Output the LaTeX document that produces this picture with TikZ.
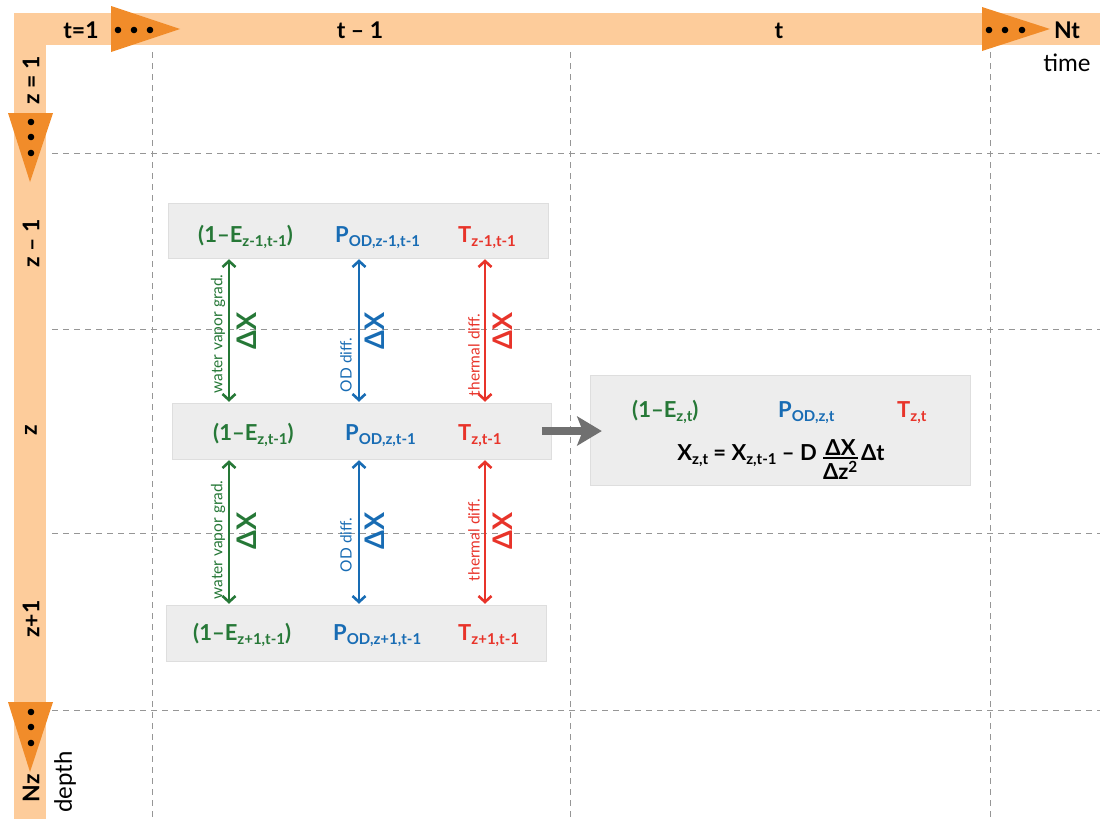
\documentclass[tikz,border=0pt]{standalone}
\usepackage{amsmath}
\usepackage{fontspec}
\setmainfont{Lato}
\usetikzlibrary{arrows.meta}

\definecolor{barlight}{RGB}{253,204,155}
\definecolor{bardark}{RGB}{241,140,42}
\definecolor{vapgreen}{RGB}{38,120,55}
\definecolor{odblue}{RGB}{24,108,180}
\definecolor{thermred}{RGB}{232,52,42}
\definecolor{boxgray}{RGB}{237,237,237}
\definecolor{boxedge}{RGB}{222,222,222}
\definecolor{gridgray}{RGB}{150,150,150}
\definecolor{pushgray}{RGB}{112,112,112}

% subscript as set in the figure
\newcommand{\sbs}[1]{\raisebox{-4pt}{\fontsize{15}{15}\selectfont #1}}
\newcommand{\stackfrac}[2]{\raisebox{-3.5pt}{$\genfrac{}{}{1.8pt}{}{\hbox{#1}}{\hbox{#2}}$}}

\begin{document}
\begin{tikzpicture}[x=1pt, y=-1pt,
    >={Straight Barb[length=6pt,width=13pt]},
    grid/.style={gridgray, dash pattern=on 6pt off 5pt, line width=0.9pt},
    barlabel/.style={font=\fontsize{23}{23}\selectfont\bfseries, inner sep=0pt},
    axisname/.style={font=\fontsize{24}{24}\selectfont, inner sep=0pt},
    cell/.style={fill=boxgray, draw=boxedge, line width=0.5pt, inner sep=0pt},
    qty/.style={font=\fontsize{22}{22}\selectfont\bfseries, inner sep=0pt, anchor=base west},
    flux/.style={<->, line width=2.6pt, shorten <=1pt, shorten >=1pt},
    fluxnote/.style={rotate=90, font=\fontsize{15.5}{15.5}\selectfont, inner sep=0pt},
    delta/.style={rotate=90, font=\fontsize{27}{27}\selectfont\bfseries, inner sep=0pt}]
    \useasboundingbox (0,0) rectangle (1100,819);

    % dashed grid
    \foreach \gx in {152,570,990}
        \draw[grid] (\gx,52) -- (\gx,819);
    \foreach \gy in {153,329,533,710}
        \draw[grid] (52,\gy) -- (1100,\gy);

    % time and depth bars
    \fill[barlight] (14,13) rectangle (1100,45);
    \fill[barlight] (14,13) rectangle (46,819);
    \fill[bardark] (111,6) -- (111,52) -- (180,29) -- cycle;
    \fill[bardark] (982,7) -- (982,51) -- (1050,29) -- cycle;
    \fill[bardark] (8,113) -- (53,113) -- (30,182) -- cycle;
    \fill[bardark] (8,702) -- (53,702) -- (30,772) -- cycle;
    \foreach \dx in {118,134,150,989,1005,1022}
        \fill (\dx,30) circle (3.3);
    \foreach \dy in {122,137,153,712,727,743}
        \fill (31,\dy) circle (3.3);

    \node[barlabel, anchor=base] at (81,38)   (tfirst) {t=1};
    \node[barlabel, anchor=base] at (360,38)  (tprev)  {t -- 1};
    \node[barlabel, anchor=base] at (779,38)  (tnow)   {t};
    \node[barlabel, anchor=base] at (1067,38) (tlast)  {Nt};
    \node[axisname, anchor=base] at (1067,71) (timelbl) {time};

    \node[barlabel, rotate=90] at (31,80)  (zfirst) {z = 1};
    \node[barlabel, rotate=90] at (31,243) (zprev)  {z -- 1};
    \node[barlabel, rotate=90] at (31,430) (znow)   {z};
    \node[barlabel, rotate=90] at (31,619) (znext)  {z+1};
    \node[barlabel, rotate=90] at (31,788) (zlast)  {Nz};
    \node[axisname, rotate=90] at (65,782) (depthlbl) {depth};

    % state boxes
    \node[cell, minimum width=380, minimum height=55] at (358,230.5) (cellA)   {};
    \node[cell, minimum width=379, minimum height=56] at (361.5,431) (cellZ)   {};
    \node[cell, minimum width=380, minimum height=56] at (356,633)   (cellB)   {};
    \node[cell, minimum width=380, minimum height=110] at (780.5,430) (cellNew) {};

    \node[qty, vapgreen] at (198,242) (eA) {(1–E\sbs{z-1,t-1})};
    \node[qty, odblue]   at (335,242) (pA) {P\sbs{OD,z-1,t-1}};
    \node[qty, thermred] at (458,242) (tA) {T\sbs{z-1,t-1}};

    \node[qty, vapgreen] at (213,440) (eZ) {(1–E\sbs{z,t-1})};
    \node[qty, odblue]   at (345,440) (pZ) {P\sbs{OD,z,t-1}};
    \node[qty, thermred] at (458,440) (tZ) {T\sbs{z,t-1}};

    \node[qty, vapgreen] at (193,640) (eB) {(1–E\sbs{z+1,t-1})};
    \node[qty, odblue]   at (333,640) (pB) {P\sbs{OD,z+1,t-1}};
    \node[qty, thermred] at (458,640) (tB) {T\sbs{z+1,t-1}};

    \node[qty, vapgreen] at (632,417) (eNew) {(1–E\sbs{z,t})};
    \node[qty, odblue]   at (778,417) (pNew) {P\sbs{OD,z,t}};
    \node[qty, thermred] at (897,417) (tNew) {T\sbs{z,t}};
    \node[qty, anchor=base] at (781,460) (update)
        {X\sbs{z,t} = X\sbs{z,t-1} – D\hspace{5pt}\stackfrac{ΔX}{Δz\textsuperscript{2}}\hspace{2pt}Δt};

    % exchange between layers
    \coordinate (gx) at (229,0);
    \coordinate (bx) at (359,0);
    \coordinate (rx) at (485,0);
    \draw[flux, vapgreen] (cellA.south -| gx) -- (cellZ.north -| gx);
    \draw[flux, odblue]   (cellA.south -| bx) -- (cellZ.north -| bx);
    \draw[flux, thermred] (cellA.south -| rx) -- (cellZ.north -| rx);
    \draw[flux, vapgreen] (cellZ.south -| gx) -- (cellB.north -| gx);
    \draw[flux, odblue]   (cellZ.south -| bx) -- (cellB.north -| bx);
    \draw[flux, thermred] (cellZ.south -| rx) -- (cellB.north -| rx);

    \node[fluxnote, vapgreen] at (218,334) (wvA)  {water vapor grad.};
    \node[delta, vapgreen]    at (247,331) (dgA)  {ΔX};
    \node[fluxnote, odblue]   at (346,365) (odA)  {OD diff.};
    \node[delta, odblue]      at (375,331) (dbA)  {ΔX};
    \node[fluxnote, thermred] at (474,355) (thA)  {thermal diff.};
    \node[delta, thermred]    at (503,331) (drA)  {ΔX};

    \node[fluxnote, vapgreen] at (218,540) (wvB)  {water vapor grad.};
    \node[delta, vapgreen]    at (247,531) (dgB)  {ΔX};
    \node[fluxnote, odblue]   at (346,545) (odB)  {OD diff.};
    \node[delta, odblue]      at (375,531) (dbB)  {ΔX};
    \node[fluxnote, thermred] at (474,540) (thB)  {thermal diff.};
    \node[delta, thermred]    at (503,531) (drB)  {ΔX};

    % step forward in time
    \draw[pushgray, line width=8pt, shorten <=-9.5pt, shorten >=-3pt]
        (cellZ.east) -- (cellZ.east -| cellNew.west);
    \fill[pushgray] (cellZ.east -| cellNew.west) ++(11.5,0) -- ++(-25,-15)
        -- ++(6,15) -- ++(-6,15) -- cycle;
\end{tikzpicture}
\end{document}
